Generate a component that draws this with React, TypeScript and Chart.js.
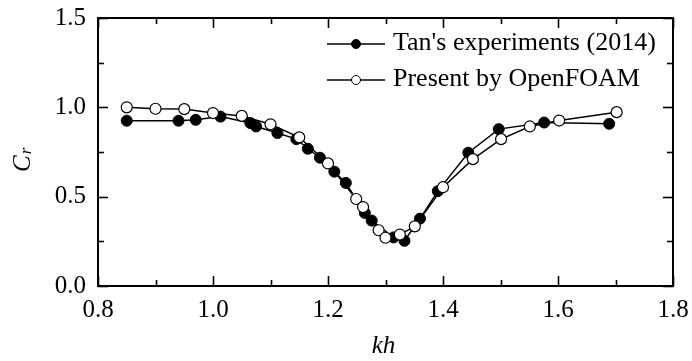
import React, { useEffect, useRef } from "react";
import { Chart, registerables } from "chart.js";

Chart.register(...registerables);

// ---- Data ----
const khExperiment = [0.85, 0.94, 0.97, 1.013, 1.065, 1.075, 1.112, 1.145, 1.165, 1.186, 1.211, 1.231, 1.264, 1.276, 1.314, 1.333, 1.36, 1.391, 1.444, 1.497, 1.576, 1.689];
const crExperiment = [0.925, 0.925, 0.93, 0.948, 0.912, 0.893, 0.856, 0.822, 0.768, 0.718, 0.64, 0.577, 0.409, 0.366, 0.272, 0.253, 0.377, 0.531, 0.746, 0.878, 0.915, 0.908];

const khOpenFOAM = [0.85, 0.90, 0.95, 1.00, 1.05, 1.10, 1.15, 1.20, 1.249, 1.261, 1.288, 1.30, 1.325, 1.351, 1.40, 1.452, 1.501, 1.551, 1.602, 1.702];
const crOpenFOAM = [1.0, 0.992, 0.99, 0.968, 0.952, 0.905, 0.832, 0.686, 0.487, 0.442, 0.312, 0.27, 0.288, 0.334, 0.553, 0.71, 0.822, 0.893, 0.926, 0.973];

const xTickValues = [0.8, 1.0, 1.2, 1.4, 1.6, 1.8];
const xMinorTickValues = [0.9, 1.1, 1.3, 1.5, 1.7];
const yTickValues = [0.0, 0.5, 1.0, 1.5];
const yMinorTickValues = [0.25, 0.75, 1.25];

const seriesLabels = ["Tan's experiments (2014)", "Present by OpenFOAM"];
const xTitle = "kh";
const yTitleMain = "C";
const yTitleSub = "r";

const FONT = "'Liberation Serif', 'Times New Roman', serif";

const framePlugin = {
  id: "frameAndLegend",
  afterDraw(chart: any) {
    const { ctx, chartArea: a, scales } = chart;
    const xs = scales.x;
    const ys = scales.y;
    ctx.save();
    ctx.strokeStyle = "#000";
    ctx.lineCap = "butt";
    const seg = (x1: number, y1: number, x2: number, y2: number) => {
      ctx.beginPath();
      ctx.moveTo(x1, y1);
      ctx.lineTo(x2, y2);
      ctx.stroke();
    };
    ctx.lineWidth = 1.6;
    const major = 10;
    const minor = 6;
    const xt = (v: number, len: number) => {
      const p = Math.round(xs.getPixelForValue(v)) + 0.5;
      seg(p, a.bottom, p, a.bottom - len);
      seg(p, a.top, p, a.top + len);
    };
    const yt = (v: number, len: number) => {
      const p = Math.round(ys.getPixelForValue(v)) + 0.5;
      seg(a.left, p, a.left + len, p);
      seg(a.right, p, a.right - len, p);
    };
    xTickValues.forEach((v) => xt(v, major));
    xMinorTickValues.forEach((v) => xt(v, minor));
    yTickValues.forEach((v) => yt(v, major));
    yMinorTickValues.forEach((v) => yt(v, minor));

    ctx.lineWidth = 2;
    ctx.strokeRect(a.left, a.top, a.right - a.left, a.bottom - a.top);

    // Legend
    const lx = a.right - 346;
    const rows = [a.top + 26, a.top + 62];
    const fills = ["#000", "#fff"];
    ctx.font = `26px ${FONT}`;
    ctx.fillStyle = "#000";
    ctx.textBaseline = "alphabetic";
    ctx.textAlign = "left";
    rows.forEach((ry, i) => {
      ctx.lineWidth = 1.5;
      seg(lx, ry, lx + 58, ry);
      ctx.beginPath();
      ctx.arc(lx + 29, ry, 4.5, 0, Math.PI * 2);
      ctx.fillStyle = fills[i];
      ctx.fill();
      ctx.lineWidth = 1;
      ctx.stroke();
      ctx.fillStyle = "#000";
      ctx.fillText(seriesLabels[i], lx + 66, ry + 6);
    });

    // X title
    ctx.font = `italic 25px ${FONT}`;
    ctx.textAlign = "center";
    ctx.fillText(xTitle, (a.left + a.right) / 2 - 2, a.bottom + 67);

    // Y title with subscript
    ctx.translate(30, (a.top + a.bottom) / 2 + 20);
    ctx.rotate(-Math.PI / 2);
    ctx.textAlign = "left";
    ctx.font = `italic 25px ${FONT}`;
    ctx.fillText(yTitleMain, 0, 0);
    const w = ctx.measureText(yTitleMain).width;
    ctx.font = `italic 17px ${FONT}`;
    ctx.fillText(yTitleSub, w + 1, 1);
    ctx.restore();
  },
};

export default function App() {
  const canvasRef = useRef<HTMLCanvasElement | null>(null);

  useEffect(() => {
    if (!canvasRef.current) return;
    Chart.defaults.font.family = FONT;
    Chart.defaults.color = "#000";
    const chart = new Chart(canvasRef.current, {
      type: "scatter",
      data: {
        datasets: [
          {
            label: seriesLabels[1],
            data: khOpenFOAM.map((x, i) => ({ x, y: crOpenFOAM[i] })),
            showLine: true,
            borderColor: "#000",
            borderWidth: 1.5,
            backgroundColor: "#fff",
            pointBackgroundColor: "#fff",
            pointBorderColor: "#000",
            pointBorderWidth: 1.2,
            pointRadius: 5.5,
            order: 0,
          },
          {
            label: seriesLabels[0],
            data: khExperiment.map((x, i) => ({ x, y: crExperiment[i] })),
            showLine: true,
            borderColor: "#000",
            borderWidth: 1.5,
            backgroundColor: "#000",
            pointBackgroundColor: "#000",
            pointBorderColor: "#000",
            pointBorderWidth: 1,
            pointRadius: 5.5,
            order: 1,
          },
        ],
      },
      options: {
        animation: false,
        responsive: true,
        maintainAspectRatio: false,
        events: [],
        layout: { padding: { top: 18, right: 19, left: 0, bottom: 0 } },
        plugins: {
          legend: { display: false },
          tooltip: { enabled: false },
          title: { display: false },
        },
        scales: {
          x: {
            type: "linear",
            min: 0.8,
            max: 1.8,
            grid: { display: false, drawTicks: false },
            border: { display: false },
            afterBuildTicks: (scale: any) => {
              scale.ticks = xTickValues.map((v) => ({ value: v }));
            },
            afterFit: (scale: any) => {
              scale.height = 75;
              scale.paddingLeft = 0;
              scale.paddingRight = 0;
            },
            ticks: {
              padding: 9,
              maxRotation: 0,
              autoSkip: false,
              font: { size: 25, family: FONT },
              color: "#000",
              callback: (v: any) => Number(v).toFixed(1),
            },
          },
          y: {
            type: "linear",
            min: 0,
            max: 1.5,
            grid: { display: false, drawTicks: false },
            border: { display: false },
            afterBuildTicks: (scale: any) => {
              scale.ticks = yTickValues.map((v) => ({ value: v }));
            },
            afterFit: (scale: any) => {
              scale.width = 98;
              scale.paddingTop = 0;
              scale.paddingBottom = 0;
            },
            ticks: {
              padding: 12,
              autoSkip: false,
              font: { size: 25, family: FONT },
              color: "#000",
              callback: (v: any) => Number(v).toFixed(1),
            },
          },
        },
      },
      plugins: [framePlugin],
    });
    return () => chart.destroy();
  }, []);

  return (
    <div style={{ position: "fixed", left: 0, top: 0, width: 692, height: 361, background: "#fff" }}>
      <canvas ref={canvasRef} />
    </div>
  );
}
